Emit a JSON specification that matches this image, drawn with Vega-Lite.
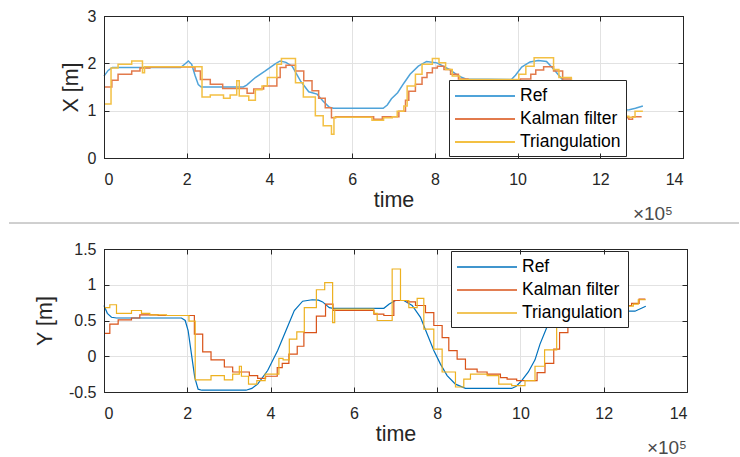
{
  "$schema": "https://vega.github.io/schema/vega-lite/v6.json",
  "padding": {"left": 8, "top": 7, "right": 2, "bottom": 5},
  "background": "white",
  "bounds": "flush",
  "spacing": 26,
  "config": {
    "font": "Liberation Sans",
    "view": {"stroke": "#262626", "strokeWidth": 1},
    "axis": {
      "labelFont": "Liberation Sans", "labelFontSize": 16, "labelColor": "#262626",
      "titleFont": "Liberation Sans", "titleFontSize": 21.5, "titleFontWeight": "normal", "titleColor": "#262626",
      "domain": true, "domainColor": "#262626", "gridColor": "#e2e2e2", "gridWidth": 1,
      "tickColor": "#262626", "tickSize": -5, "labelPadding": 13
    },
    "axisX": {"labelPadding": 18},
    "legend": {
      "labelFont": "Liberation Sans", "labelFontSize": 17.5, "labelColor": "#000000",
      "fillColor": "white", "strokeColor": "#262626", "padding": 5, "labelOffset": 44, "rowPadding": 3,
      "symbolType": "M-1,0H5", "symbolSize": 400, "symbolStrokeWidth": 2
    },
    "title": {"font": "Liberation Sans", "fontWeight": "normal"}
  },
  "datasets": {
    "top": [
      {"t":0,"v":1.73,"s":"Ref"},{"t":0.1,"v":1.85,"s":"Ref"},{"t":0.2,"v":1.91,"s":"Ref"},{"t":1.85,"v":1.91,"s":"Ref"},{"t":1.95,"v":1.98,"s":"Ref"},{"t":2.04,"v":2.05,"s":"Ref"},{"t":2.12,"v":1.98,"s":"Ref"},{"t":2.2,"v":1.75,"s":"Ref"},{"t":2.28,"v":1.55,"s":"Ref"},{"t":2.35,"v":1.5,"s":"Ref"},{"t":3.37,"v":1.5,"s":"Ref"},{"t":3.45,"v":1.54,"s":"Ref"},{"t":3.66,"v":1.7,"s":"Ref"},{"t":3.9,"v":1.84,"s":"Ref"},{"t":4.14,"v":1.99,"s":"Ref"},{"t":4.26,"v":2.05,"s":"Ref"},{"t":4.4,"v":2.02,"s":"Ref"},{"t":4.55,"v":1.94,"s":"Ref"},{"t":4.75,"v":1.63,"s":"Ref"},{"t":4.95,"v":1.4,"s":"Ref"},{"t":5.15,"v":1.35,"s":"Ref"},{"t":5.3,"v":1.2,"s":"Ref"},{"t":5.45,"v":1.07,"s":"Ref"},{"t":5.55,"v":1.05,"s":"Ref"},{"t":6.75,"v":1.05,"s":"Ref"},{"t":6.85,"v":1.12,"s":"Ref"},{"t":6.95,"v":1.25,"s":"Ref"},{"t":7.1,"v":1.38,"s":"Ref"},{"t":7.25,"v":1.58,"s":"Ref"},{"t":7.4,"v":1.77,"s":"Ref"},{"t":7.6,"v":1.94,"s":"Ref"},{"t":7.8,"v":2.04,"s":"Ref"},{"t":8.05,"v":2.01,"s":"Ref"},{"t":8.35,"v":1.87,"s":"Ref"},{"t":8.58,"v":1.73,"s":"Ref"},{"t":8.75,"v":1.67,"s":"Ref"},{"t":9.85,"v":1.66,"s":"Ref"},{"t":9.95,"v":1.75,"s":"Ref"},{"t":10.1,"v":1.92,"s":"Ref"},{"t":10.3,"v":2.03,"s":"Ref"},{"t":10.5,"v":2.06,"s":"Ref"},{"t":10.7,"v":2.04,"s":"Ref"},{"t":10.88,"v":1.87,"s":"Ref"},{"t":11.04,"v":1.7,"s":"Ref"},{"t":11.3,"v":1.45,"s":"Ref"},{"t":11.6,"v":1.2,"s":"Ref"},{"t":11.9,"v":1.05,"s":"Ref"},{"t":12.3,"v":1.0,"s":"Ref"},{"t":12.7,"v":1.02,"s":"Ref"},{"t":12.85,"v":1.05,"s":"Ref"},{"t":13.03,"v":1.1,"s":"Ref"},
      {"t":0,"v":1.5,"s":"Kalman filter"},{"t":0.19,"v":1.64,"s":"Kalman filter"},{"t":0.34,"v":1.77,"s":"Kalman filter"},{"t":0.67,"v":1.84,"s":"Kalman filter"},{"t":0.87,"v":1.9,"s":"Kalman filter"},{"t":1.11,"v":1.92,"s":"Kalman filter"},{"t":2.2,"v":1.84,"s":"Kalman filter"},{"t":2.33,"v":1.66,"s":"Kalman filter"},{"t":2.57,"v":1.56,"s":"Kalman filter"},{"t":2.87,"v":1.47,"s":"Kalman filter"},{"t":3.46,"v":1.37,"s":"Kalman filter"},{"t":3.62,"v":1.46,"s":"Kalman filter"},{"t":3.86,"v":1.52,"s":"Kalman filter"},{"t":4.18,"v":1.7,"s":"Kalman filter"},{"t":4.26,"v":1.91,"s":"Kalman filter"},{"t":4.4,"v":1.96,"s":"Kalman filter"},{"t":4.63,"v":1.84,"s":"Kalman filter"},{"t":4.83,"v":1.63,"s":"Kalman filter"},{"t":5.03,"v":1.42,"s":"Kalman filter"},{"t":5.19,"v":1.26,"s":"Kalman filter"},{"t":5.35,"v":1.06,"s":"Kalman filter"},{"t":5.5,"v":0.85,"s":"Kalman filter"},{"t":5.6,"v":0.87,"s":"Kalman filter"},{"t":6.52,"v":0.82,"s":"Kalman filter"},{"t":6.73,"v":0.87,"s":"Kalman filter"},{"t":7.13,"v":0.99,"s":"Kalman filter"},{"t":7.29,"v":1.22,"s":"Kalman filter"},{"t":7.37,"v":1.41,"s":"Kalman filter"},{"t":7.53,"v":1.56,"s":"Kalman filter"},{"t":7.69,"v":1.7,"s":"Kalman filter"},{"t":7.81,"v":1.8,"s":"Kalman filter"},{"t":7.94,"v":1.9,"s":"Kalman filter"},{"t":8.06,"v":1.94,"s":"Kalman filter"},{"t":8.22,"v":1.87,"s":"Kalman filter"},{"t":8.38,"v":1.77,"s":"Kalman filter"},{"t":8.57,"v":1.67,"s":"Kalman filter"},{"t":8.8,"v":1.65,"s":"Kalman filter"},{"t":10.07,"v":1.67,"s":"Kalman filter"},{"t":10.32,"v":1.77,"s":"Kalman filter"},{"t":10.44,"v":1.86,"s":"Kalman filter"},{"t":10.63,"v":1.93,"s":"Kalman filter"},{"t":10.87,"v":1.84,"s":"Kalman filter"},{"t":11.09,"v":1.67,"s":"Kalman filter"},{"t":11.3,"v":1.5,"s":"Kalman filter"},{"t":11.6,"v":1.3,"s":"Kalman filter"},{"t":11.9,"v":1.1,"s":"Kalman filter"},{"t":12.3,"v":0.9,"s":"Kalman filter"},{"t":12.5,"v":0.85,"s":"Kalman filter"},{"t":12.69,"v":0.82,"s":"Kalman filter"},{"t":12.78,"v":0.87,"s":"Kalman filter"},{"t":13.0,"v":0.87,"s":"Kalman filter"},
      {"t":0,"v":1.14,"s":"Triangulation"},{"t":0.17,"v":1.9,"s":"Triangulation"},{"t":0.34,"v":1.98,"s":"Triangulation"},{"t":0.67,"v":2.05,"s":"Triangulation"},{"t":0.93,"v":1.8,"s":"Triangulation"},{"t":0.98,"v":1.93,"s":"Triangulation"},{"t":2.37,"v":1.29,"s":"Triangulation"},{"t":2.57,"v":1.33,"s":"Triangulation"},{"t":2.89,"v":1.26,"s":"Triangulation"},{"t":3.05,"v":1.33,"s":"Triangulation"},{"t":3.21,"v":1.63,"s":"Triangulation"},{"t":3.27,"v":1.31,"s":"Triangulation"},{"t":3.5,"v":1.22,"s":"Triangulation"},{"t":3.66,"v":1.44,"s":"Triangulation"},{"t":3.82,"v":1.52,"s":"Triangulation"},{"t":3.95,"v":1.7,"s":"Triangulation"},{"t":4.18,"v":1.98,"s":"Triangulation"},{"t":4.29,"v":2.1,"s":"Triangulation"},{"t":4.63,"v":1.59,"s":"Triangulation"},{"t":4.82,"v":1.29,"s":"Triangulation"},{"t":5.11,"v":0.89,"s":"Triangulation"},{"t":5.3,"v":0.68,"s":"Triangulation"},{"t":5.5,"v":0.5,"s":"Triangulation"},{"t":5.56,"v":0.86,"s":"Triangulation"},{"t":6.48,"v":0.8,"s":"Triangulation"},{"t":6.76,"v":0.85,"s":"Triangulation"},{"t":6.97,"v":0.87,"s":"Triangulation"},{"t":7.09,"v":0.99,"s":"Triangulation"},{"t":7.25,"v":1.1,"s":"Triangulation"},{"t":7.33,"v":1.52,"s":"Triangulation"},{"t":7.53,"v":1.77,"s":"Triangulation"},{"t":7.69,"v":1.98,"s":"Triangulation"},{"t":7.94,"v":2.1,"s":"Triangulation"},{"t":8.1,"v":2.01,"s":"Triangulation"},{"t":8.26,"v":1.87,"s":"Triangulation"},{"t":8.42,"v":1.73,"s":"Triangulation"},{"t":8.6,"v":1.66,"s":"Triangulation"},{"t":10.03,"v":1.77,"s":"Triangulation"},{"t":10.2,"v":1.94,"s":"Triangulation"},{"t":10.4,"v":2.12,"s":"Triangulation"},{"t":10.87,"v":1.87,"s":"Triangulation"},{"t":11.0,"v":1.7,"s":"Triangulation"},{"t":11.3,"v":1.5,"s":"Triangulation"},{"t":11.6,"v":1.3,"s":"Triangulation"},{"t":11.9,"v":1.1,"s":"Triangulation"},{"t":12.2,"v":0.95,"s":"Triangulation"},{"t":12.5,"v":0.88,"s":"Triangulation"},{"t":12.69,"v":0.86,"s":"Triangulation"},{"t":12.84,"v":0.99,"s":"Triangulation"},{"t":13.03,"v":0.99,"s":"Triangulation"}
    ],
    "bot": [
      {"t":0,"v":0.71,"s":"Ref"},{"t":0.08,"v":0.6,"s":"Ref"},{"t":0.18,"v":0.545,"s":"Ref"},{"t":0.3,"v":0.535,"s":"Ref"},{"t":1.86,"v":0.535,"s":"Ref"},{"t":1.95,"v":0.5,"s":"Ref"},{"t":2.02,"v":0.36,"s":"Ref"},{"t":2.1,"v":0.03,"s":"Ref"},{"t":2.18,"v":-0.3,"s":"Ref"},{"t":2.26,"v":-0.46,"s":"Ref"},{"t":2.35,"v":-0.475,"s":"Ref"},{"t":3.41,"v":-0.475,"s":"Ref"},{"t":3.55,"v":-0.45,"s":"Ref"},{"t":3.69,"v":-0.39,"s":"Ref"},{"t":3.93,"v":-0.2,"s":"Ref"},{"t":4.17,"v":0.08,"s":"Ref"},{"t":4.37,"v":0.36,"s":"Ref"},{"t":4.57,"v":0.64,"s":"Ref"},{"t":4.77,"v":0.77,"s":"Ref"},{"t":5.0,"v":0.79,"s":"Ref"},{"t":5.15,"v":0.785,"s":"Ref"},{"t":5.25,"v":0.76,"s":"Ref"},{"t":5.41,"v":0.68,"s":"Ref"},{"t":5.5,"v":0.67,"s":"Ref"},{"t":6.72,"v":0.67,"s":"Ref"},{"t":6.85,"v":0.73,"s":"Ref"},{"t":7.0,"v":0.78,"s":"Ref"},{"t":7.2,"v":0.78,"s":"Ref"},{"t":7.4,"v":0.71,"s":"Ref"},{"t":7.6,"v":0.545,"s":"Ref"},{"t":7.76,"v":0.31,"s":"Ref"},{"t":7.92,"v":0.08,"s":"Ref"},{"t":8.08,"v":-0.11,"s":"Ref"},{"t":8.24,"v":-0.27,"s":"Ref"},{"t":8.44,"v":-0.39,"s":"Ref"},{"t":8.68,"v":-0.45,"s":"Ref"},{"t":9.79,"v":-0.45,"s":"Ref"},{"t":9.9,"v":-0.42,"s":"Ref"},{"t":10.03,"v":-0.34,"s":"Ref"},{"t":10.19,"v":-0.22,"s":"Ref"},{"t":10.35,"v":-0.05,"s":"Ref"},{"t":10.47,"v":0.17,"s":"Ref"},{"t":10.63,"v":0.4,"s":"Ref"},{"t":10.75,"v":0.545,"s":"Ref"},{"t":10.9,"v":0.68,"s":"Ref"},{"t":11.1,"v":0.76,"s":"Ref"},{"t":11.4,"v":0.78,"s":"Ref"},{"t":11.8,"v":0.72,"s":"Ref"},{"t":12.2,"v":0.66,"s":"Ref"},{"t":12.5,"v":0.63,"s":"Ref"},{"t":12.75,"v":0.63,"s":"Ref"},{"t":13.01,"v":0.7,"s":"Ref"},
      {"t":0,"v":0.32,"s":"Kalman filter"},{"t":0.14,"v":0.45,"s":"Kalman filter"},{"t":0.34,"v":0.51,"s":"Kalman filter"},{"t":0.66,"v":0.535,"s":"Kalman filter"},{"t":0.86,"v":0.58,"s":"Kalman filter"},{"t":1.3,"v":0.57,"s":"Kalman filter"},{"t":2.17,"v":0.31,"s":"Kalman filter"},{"t":2.37,"v":0.06,"s":"Kalman filter"},{"t":2.57,"v":-0.05,"s":"Kalman filter"},{"t":2.89,"v":-0.15,"s":"Kalman filter"},{"t":3.09,"v":-0.22,"s":"Kalman filter"},{"t":3.49,"v":-0.27,"s":"Kalman filter"},{"t":3.69,"v":-0.31,"s":"Kalman filter"},{"t":3.88,"v":-0.28,"s":"Kalman filter"},{"t":4.16,"v":-0.16,"s":"Kalman filter"},{"t":4.28,"v":-0.1,"s":"Kalman filter"},{"t":4.44,"v":0.03,"s":"Kalman filter"},{"t":4.64,"v":0.14,"s":"Kalman filter"},{"t":4.8,"v":0.33,"s":"Kalman filter"},{"t":5.1,"v":0.56,"s":"Kalman filter"},{"t":5.32,"v":0.73,"s":"Kalman filter"},{"t":5.5,"v":0.64,"s":"Kalman filter"},{"t":6.48,"v":0.59,"s":"Kalman filter"},{"t":6.72,"v":0.57,"s":"Kalman filter"},{"t":6.96,"v":0.78,"s":"Kalman filter"},{"t":7.28,"v":0.76,"s":"Kalman filter"},{"t":7.48,"v":0.71,"s":"Kalman filter"},{"t":7.72,"v":0.61,"s":"Kalman filter"},{"t":7.92,"v":0.43,"s":"Kalman filter"},{"t":8.12,"v":0.26,"s":"Kalman filter"},{"t":8.28,"v":0.08,"s":"Kalman filter"},{"t":8.48,"v":-0.04,"s":"Kalman filter"},{"t":8.68,"v":-0.18,"s":"Kalman filter"},{"t":8.96,"v":-0.22,"s":"Kalman filter"},{"t":9.2,"v":-0.25,"s":"Kalman filter"},{"t":9.52,"v":-0.3,"s":"Kalman filter"},{"t":9.68,"v":-0.32,"s":"Kalman filter"},{"t":9.91,"v":-0.34,"s":"Kalman filter"},{"t":10.4,"v":-0.23,"s":"Kalman filter"},{"t":10.59,"v":-0.1,"s":"Kalman filter"},{"t":10.8,"v":0.1,"s":"Kalman filter"},{"t":10.94,"v":0.33,"s":"Kalman filter"},{"t":11.14,"v":0.49,"s":"Kalman filter"},{"t":11.3,"v":0.6,"s":"Kalman filter"},{"t":11.6,"v":0.68,"s":"Kalman filter"},{"t":12.0,"v":0.7,"s":"Kalman filter"},{"t":12.4,"v":0.71,"s":"Kalman filter"},{"t":12.67,"v":0.74,"s":"Kalman filter"},{"t":12.85,"v":0.8,"s":"Kalman filter"},{"t":13.0,"v":0.8,"s":"Kalman filter"},
      {"t":0,"v":0.68,"s":"Triangulation"},{"t":0.14,"v":0.72,"s":"Triangulation"},{"t":0.3,"v":0.6,"s":"Triangulation"},{"t":0.66,"v":0.64,"s":"Triangulation"},{"t":0.9,"v":0.6,"s":"Triangulation"},{"t":1.1,"v":0.58,"s":"Triangulation"},{"t":1.5,"v":0.57,"s":"Triangulation"},{"t":2.04,"v":0.49,"s":"Triangulation"},{"t":2.19,"v":-0.33,"s":"Triangulation"},{"t":2.57,"v":-0.27,"s":"Triangulation"},{"t":2.89,"v":-0.33,"s":"Triangulation"},{"t":3.09,"v":-0.25,"s":"Triangulation"},{"t":3.25,"v":-0.14,"s":"Triangulation"},{"t":3.3,"v":-0.28,"s":"Triangulation"},{"t":3.47,"v":-0.39,"s":"Triangulation"},{"t":3.67,"v":-0.34,"s":"Triangulation"},{"t":3.87,"v":-0.25,"s":"Triangulation"},{"t":4.2,"v":-0.03,"s":"Triangulation"},{"t":4.3,"v":-0.05,"s":"Triangulation"},{"t":4.45,"v":0.24,"s":"Triangulation"},{"t":4.63,"v":0.34,"s":"Triangulation"},{"t":4.81,"v":0.68,"s":"Triangulation"},{"t":5.1,"v":0.93,"s":"Triangulation"},{"t":5.3,"v":1.03,"s":"Triangulation"},{"t":5.49,"v":0.47,"s":"Triangulation"},{"t":5.54,"v":0.66,"s":"Triangulation"},{"t":6.48,"v":0.6,"s":"Triangulation"},{"t":6.56,"v":0.5,"s":"Triangulation"},{"t":6.92,"v":1.22,"s":"Triangulation"},{"t":7.12,"v":0.78,"s":"Triangulation"},{"t":7.32,"v":0.68,"s":"Triangulation"},{"t":7.52,"v":0.81,"s":"Triangulation"},{"t":7.68,"v":0.38,"s":"Triangulation"},{"t":7.92,"v":0.1,"s":"Triangulation"},{"t":8.12,"v":-0.22,"s":"Triangulation"},{"t":8.44,"v":-0.43,"s":"Triangulation"},{"t":8.64,"v":-0.32,"s":"Triangulation"},{"t":8.8,"v":-0.25,"s":"Triangulation"},{"t":9.2,"v":-0.27,"s":"Triangulation"},{"t":9.48,"v":-0.39,"s":"Triangulation"},{"t":9.79,"v":-0.41,"s":"Triangulation"},{"t":10.11,"v":-0.34,"s":"Triangulation"},{"t":10.35,"v":-0.14,"s":"Triangulation"},{"t":10.58,"v":0.09,"s":"Triangulation"},{"t":10.87,"v":0.6,"s":"Triangulation"},{"t":11.2,"v":0.7,"s":"Triangulation"},{"t":11.6,"v":0.72,"s":"Triangulation"},{"t":11.98,"v":0.43,"s":"Triangulation"},{"t":12.13,"v":0.65,"s":"Triangulation"},{"t":12.4,"v":0.7,"s":"Triangulation"},{"t":12.71,"v":0.73,"s":"Triangulation"},{"t":12.83,"v":0.79,"s":"Triangulation"},{"t":13.01,"v":0.79,"s":"Triangulation"}
    ]
  },
  "resolve": {
    "scale": {"x": "independent", "y": "independent", "color": "independent"},
    "axis": {"x": "independent", "y": "independent"},
    "legend": {"color": "independent"}
  },
  "vconcat": [
    {
      "width": 579, "height": 142,
      "data": {"name": "top"},
      "title": {"text": "×10⁵", "orient": "bottom", "anchor": "end", "frame": "group", "fontSize": 19, "color": "#4a4a4a", "offset": -6, "dx": -10},
      "encoding": {
        "color": {"field": "s", "type": "nominal",
                  "scale": {"domain": ["Ref", "Kalman filter", "Triangulation"], "range": ["#4fa3d9", "#e27a4c", "#f3c043"]},
                  "legend": {"title": null, "orient": "none", "legendX": 345, "legendY": 64}}
      },
      "resolve": {"axis": {"x": "independent", "y": "independent"}},
      "layer": [
        {"transform": [{"filter": "datum.s === 'Ref'"}], "mark": {"type": "line", "strokeWidth": 1.5, "interpolate": "linear"},
         "encoding": {
           "x": {"field": "t", "type": "quantitative", "scale": {"domain": [0, 14], "nice": false},
                 "axis": {"title": "time", "values": [0, 2, 4, 6, 8, 10, 12, 14], "titlePadding": 2, "grid": false, "zindex": 1}},
           "y": {"field": "v", "type": "quantitative", "scale": {"domain": [0, 3], "nice": false},
                 "axis": {"title": "X [m]", "values": [0, 1, 2, 3], "titlePadding": 5, "grid": false, "zindex": 1}}
         }},
        {"transform": [{"filter": "datum.s !== 'Ref'"}], "mark": {"type": "line", "strokeWidth": 1.5, "interpolate": "step-after"},
         "encoding": {
           "x": {"field": "t", "type": "quantitative",
                 "axis": {"grid": true, "labels": false, "ticks": false, "domain": false, "title": null, "values": [2, 4, 6, 8, 10, 12], "zindex": 0}},
           "y": {"field": "v", "type": "quantitative",
                 "axis": {"grid": true, "labels": false, "ticks": false, "domain": false, "title": null, "values": [1, 2], "zindex": 0}}
         }},
        {"mark": {"type": "point", "opacity": 0},
         "encoding": {
           "x": {"field": "t", "type": "quantitative", "axis": {"orient": "top", "labels": false, "title": null, "grid": false, "zindex": 1, "values": [0, 2, 4, 6, 8, 10, 12, 14]}},
           "y": {"field": "v", "type": "quantitative", "axis": {"orient": "right", "labels": false, "title": null, "grid": false, "zindex": 1, "values": [0, 1, 2, 3]}}
         }}
      ]
    },
    {
      "width": 579, "height": 39,
      "view": {"stroke": null},
      "data": {"values": [{}]},
      "mark": {"type": "rule", "color": "#a0a0a0", "strokeWidth": 1, "clip": false},
      "encoding": {
        "x": {"datum": -2.297, "type": "quantitative", "scale": {"domain": [0, 14], "nice": false}, "axis": null},
        "x2": {"datum": 15.354},
        "y": {"value": "height"}
      }
    },
    {
      "width": 583, "height": 143,
      "data": {"name": "bot"},
      "title": {"text": "×10⁵", "orient": "bottom", "anchor": "end", "frame": "group", "fontSize": 19, "color": "#4a4a4a", "offset": -6, "dx": 0},
      "encoding": {
        "color": {"field": "s", "type": "nominal",
                  "scale": {"domain": ["Ref", "Kalman filter", "Triangulation"], "range": ["#0072BD", "#D95319", "#EDB120"]},
                  "legend": {"title": null, "orient": "none", "legendX": 347, "legendY": 2, "symbolStrokeWidth": 1.5}}
      },
      "resolve": {"axis": {"x": "independent", "y": "independent"}},
      "layer": [
        {"transform": [{"filter": "datum.s === 'Ref'"}], "mark": {"type": "line", "strokeWidth": 1.2, "interpolate": "linear"},
         "encoding": {
           "x": {"field": "t", "type": "quantitative", "scale": {"domain": [0, 14], "nice": false},
                 "axis": {"title": "time", "values": [0, 2, 4, 6, 8, 10, 12, 14], "titlePadding": 2, "grid": false, "zindex": 1}},
           "y": {"field": "v", "type": "quantitative", "scale": {"domain": [-0.5, 1.5], "nice": false},
                 "axis": {"title": "Y [m]", "values": [-0.5, 0, 0.5, 1, 1.5], "format": "~g", "titlePadding": 12, "grid": false, "zindex": 1, "labelExpr": "replace(datum.label, '−', '-')"}}
         }},
        {"transform": [{"filter": "datum.s !== 'Ref'"}], "mark": {"type": "line", "strokeWidth": 1.2, "interpolate": "step-after"},
         "encoding": {
           "x": {"field": "t", "type": "quantitative",
                 "axis": {"grid": true, "labels": false, "ticks": false, "domain": false, "title": null, "values": [2, 4, 6, 8, 10, 12], "zindex": 0}},
           "y": {"field": "v", "type": "quantitative",
                 "axis": {"grid": true, "labels": false, "ticks": false, "domain": false, "title": null, "values": [0, 0.5, 1], "zindex": 0}}
         }},
        {"mark": {"type": "point", "opacity": 0},
         "encoding": {
           "x": {"field": "t", "type": "quantitative", "axis": {"orient": "top", "labels": false, "title": null, "grid": false, "zindex": 1, "values": [0, 2, 4, 6, 8, 10, 12, 14]}},
           "y": {"field": "v", "type": "quantitative", "axis": {"orient": "right", "labels": false, "title": null, "grid": false, "zindex": 1, "values": [-0.5, 0, 0.5, 1, 1.5]}}
         }}
      ]
    }
  ]
}
